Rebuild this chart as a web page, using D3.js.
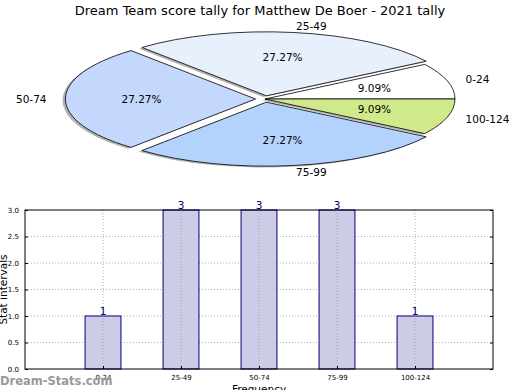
<!DOCTYPE html>
<html>
<head>
<meta charset="utf-8">
<script src="https://cdn.jsdelivr.net/npm/d3@7"></script>
<style>
  body { margin: 0; background: #fff; }
  svg { display: block; font-family: "DejaVu Sans", sans-serif; }
</style>
</head>
<body>
<script>
// chart data
var categories = [ '0-24', '25-49', '50-74', '75-99', '100-124' ];
var counts = [ 1, 3, 3, 3, 1 ];
var sliceColors = [ '#ffffff', '#e9f0fd', '#c4d7fc', '#b3d3fd', '#d0ea8b' ];
var explode = [ 0, 0.05, 0.05, 0.05, 0 ];
var yTicks = [ 0.0, 0.5, 1.0, 1.5, 2.0, 2.5, 3.0 ];

var W = 520, H = 390;

var svg = d3.select( 'body' )
            .append( 'svg' )
            .attr( 'width', W )
            .attr( 'height', H );

svg.append( 'text' )
   .attr( 'x', 260 )
   .attr( 'y', 15 )
   .attr( 'text-anchor', 'middle' )
   .style( 'font-size', '13px' )
   .text( 'Dream Team score tally for Matthew De Boer - 2021 tally' );

// ---- pie (flattened, matplotlib style: start at 3 o'clock, counter clockwise)
var pie = {
  cx : 265, cy : 99, rx : 190, ry : 64
};
var total = d3.sum( counts );

var arcs = d3.pie()
             .sort( null )
             .startAngle( Math.PI / 2 )
             .endAngle( Math.PI / 2 - 2 * Math.PI )( counts );

var unitArc = d3.arc().innerRadius( 0 ).outerRadius( 1 );

function sliceOffset( d, i ) {
  var mid = ( d.startAngle + d.endAngle ) / 2;
  return [ Math.sin( mid ) * explode[i] * pie.rx, -Math.cos( mid ) * explode[i] * pie.ry ];
}

var pieG = svg.append( 'g' );

// shadows first
pieG.selectAll( 'path.shadow' )
    .data( arcs )
    .enter()
    .append( 'path' )
    .attr( 'class', 'shadow' )
    .attr( 'd', unitArc )
    .attr( 'fill', '#555' )
    .attr( 'fill-opacity', 0.45 )
    .attr( 'transform', function( d, i ) {
      var o = sliceOffset( d, i );
      return 'translate(' + ( pie.cx + o[0] - 0.015 * pie.rx ) + ',' + ( pie.cy + o[1] + 0.02 * pie.ry ) + ') scale(' + pie.rx + ',' + pie.ry + ')';
    });

pieG.selectAll( 'path.slice' )
    .data( arcs )
    .enter()
    .append( 'path' )
    .attr( 'class', 'slice' )
    .attr( 'd', unitArc )
    .attr( 'fill', function( d, i ) { return sliceColors[i]; } )
    .attr( 'stroke', '#000' )
    .attr( 'stroke-width', 0.8 )
    .attr( 'vector-effect', 'non-scaling-stroke' )
    .attr( 'transform', function( d, i ) {
      var o = sliceOffset( d, i );
      return 'translate(' + ( pie.cx + o[0] ) + ',' + ( pie.cy + o[1] ) + ') scale(' + pie.rx + ',' + pie.ry + ')';
    });

function pointAt( d, i, r ) {
  var mid = ( d.startAngle + d.endAngle ) / 2,
      o = sliceOffset( d, i );
  return [ pie.cx + o[0] + Math.sin( mid ) * r * pie.rx, pie.cy + o[1] - Math.cos( mid ) * r * pie.ry ];
}

// category labels
pieG.selectAll( 'text.cat' )
    .data( arcs )
    .enter()
    .append( 'text' )
    .attr( 'class', 'cat' )
    .attr( 'x', function( d, i ) { return pointAt( d, i, 1.1 )[0]; } )
    .attr( 'y', function( d, i ) { return pointAt( d, i, 1.1 )[1]; } )
    .attr( 'dy', '0.35em' )
    .attr( 'text-anchor', function( d, i ) { return pointAt( d, i, 1.1 )[0] > pie.cx ? 'start' : 'end'; } )
    .style( 'font-size', '10.5px' )
    .text( function( d, i ) { return categories[i]; } );

// percent labels
pieG.selectAll( 'text.pct' )
    .data( arcs )
    .enter()
    .append( 'text' )
    .attr( 'class', 'pct' )
    .attr( 'x', function( d, i ) { return pointAt( d, i, 0.6 )[0]; } )
    .attr( 'y', function( d, i ) { return pointAt( d, i, 0.6 )[1]; } )
    .attr( 'dy', '0.35em' )
    .attr( 'text-anchor', 'middle' )
    .style( 'font-size', '10.5px' )
    .text( function( d ) { return ( d.value / total * 100 ).toFixed( 2 ) + '%'; } );

// ---- bar chart
var plot = { left : 25, right : 493, top : 210, bottom : 369 };

var x = d3.scaleLinear().domain( [ -1, 5 ] ).range( [ plot.left, plot.right ] );
var y = d3.scaleLinear().domain( [ 0, 3 ] ).range( [ plot.bottom, plot.top ] );
var barW = 0.46;

var barG = svg.append( 'g' );

// grid
barG.selectAll( 'line.hgrid' )
    .data( yTicks.slice( 1, -1 ) )
    .enter()
    .append( 'line' )
    .attr( 'x1', plot.left ).attr( 'x2', plot.right )
    .attr( 'y1', function( d ) { return y( d ); } )
    .attr( 'y2', function( d ) { return y( d ); } )
    .attr( 'stroke', '#b0b0b0' )
    .attr( 'stroke-dasharray', '1,2' );

// bars
barG.selectAll( 'rect' )
    .data( counts )
    .enter()
    .append( 'rect' )
    .attr( 'x', function( d, i ) { return x( i - barW / 2 ); } )
    .attr( 'width', x( barW ) - x( 0 ) )
    .attr( 'y', function( d ) { return y( d ); } )
    .attr( 'height', function( d ) { return y( 0 ) - y( d ); } )
    .attr( 'fill', '#cccce6' )
    .attr( 'stroke', '#000080' )
    .attr( 'stroke-width', 1 );

barG.selectAll( 'line.vgrid' )
    .data( categories )
    .enter()
    .append( 'line' )
    .attr( 'x1', function( d, i ) { return x( i ); } )
    .attr( 'x2', function( d, i ) { return x( i ); } )
    .attr( 'y1', plot.top ).attr( 'y2', plot.bottom )
    .attr( 'stroke', '#a8a8a8' )
    .attr( 'stroke-dasharray', '1,2' );

// value labels
barG.selectAll( 'text.val' )
    .data( counts )
    .enter()
    .append( 'text' )
    .attr( 'x', function( d, i ) { return x( i ); } )
    .attr( 'y', function( d ) { return y( d ) - 1; } )
    .attr( 'text-anchor', 'middle' )
    .attr( 'fill', '#000080' )
    .style( 'font-size', '10.5px' )
    .text( function( d ) { return d; } );

// axes
var yAxis = d3.axisLeft( y ).tickValues( yTicks ).tickFormat( d3.format( '.1f' ) ).tickSizeInner( -3 ).tickSizeOuter( 0 ).tickPadding( 6 );
var yAxisR = d3.axisRight( y ).tickValues( yTicks ).tickFormat( '' ).tickSizeInner( -3 ).tickSizeOuter( 0 );
var xAxis = d3.axisBottom( x ).tickValues( d3.range( categories.length ) )
              .tickFormat( function( i ) { return categories[i]; } ).tickSizeInner( -3 ).tickSizeOuter( 0 ).tickPadding( 6 );

var gy = barG.append( 'g' ).attr( 'transform', 'translate(' + plot.left + ',0)' ).call( yAxis );
var gyr = barG.append( 'g' ).attr( 'transform', 'translate(' + plot.right + ',0)' ).call( yAxisR );
var gx = barG.append( 'g' ).attr( 'transform', 'translate(0,' + plot.bottom + ')' ).call( xAxis );

[ gy, gyr, gx ].forEach( function( g ) {
  g.select( '.domain' ).remove();
  g.selectAll( 'text' ).style( 'font-size', '7px' ).style( 'font-family', '"DejaVu Sans", sans-serif' );
});

barG.append( 'rect' )
    .attr( 'x', plot.left ).attr( 'y', plot.top )
    .attr( 'width', plot.right - plot.left ).attr( 'height', plot.bottom - plot.top )
    .attr( 'fill', 'none' )
    .attr( 'stroke', '#000' )
    .attr( 'stroke-width', 1 );

svg.append( 'text' )
   .attr( 'transform', 'translate(7,' + ( ( plot.top + plot.bottom ) / 2 ) + ') rotate(-90)' )
   .attr( 'text-anchor', 'middle' )
   .style( 'font-size', '10.5px' )
   .text( 'Stat intervals' );

svg.append( 'text' )
   .attr( 'x', ( plot.left + plot.right ) / 2 )
   .attr( 'y', 393 )
   .attr( 'text-anchor', 'middle' )
   .style( 'font-size', '10.5px' )
   .text( 'Frequency' );

svg.append( 'text' )
   .attr( 'x', 0 )
   .attr( 'y', 385 )
   .attr( 'fill', '#999' )
   .style( 'font-size', '11.5px' )
   .style( 'font-weight', 'bold' )
   .text( 'Dream-Stats.com' );
</script>
</body>
</html>
